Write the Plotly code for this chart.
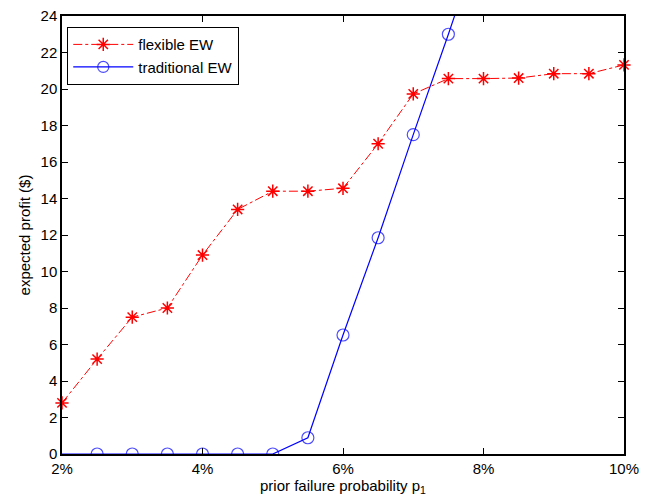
import plotly.graph_objects as go

x_flex = [2, 2.5, 3, 3.5, 4, 4.5, 5, 5.5, 6, 6.5, 7, 7.5, 8, 8.5, 9, 9.5, 10]
y_flex = [2.8, 5.2, 7.5, 8.0, 10.9, 13.4, 14.4, 14.4, 14.56, 17.0, 19.73, 20.57, 20.57, 20.6, 20.84, 20.84, 21.32]

x_trad = [2, 2.5, 3, 3.5, 4, 4.5, 5, 5.5, 6, 6.5, 7, 7.5, 8]
y_trad = [0, 0, 0, 0, 0, 0, 0, 0.89, 6.52, 11.85, 17.5, 23.0, 28.7]

x_ticks = [2, 4, 6, 8, 10]
x_tick_labels = ["2%", "4%", "6%", "8%", "10%"]
y_ticks = list(range(0, 25, 2))

FONT = "Liberation Sans, Arial, sans-serif"

fig = go.Figure()
fig.add_trace(go.Scatter(
    x=x_flex, y=y_flex, mode="lines+markers", name="flexible EW",
    line=dict(color="#ff0000", width=1, dash="dashdot"),
    marker=dict(symbol="asterisk-open", size=11, color="#ff0000",
                line=dict(color="#ff0000", width=1.5)),
    cliponaxis=False,
))
fig.add_trace(go.Scatter(
    x=x_trad, y=y_trad, mode="lines+markers", name="traditional EW",
    line=dict(color="#0000ff", width=1.2),
    marker=dict(symbol="circle-open", size=[0] + [12] * (len(x_trad) - 1),
                color="#0000ff", line=dict(color="#0000ff", width=1.2)),
))

axis_common = dict(
    showgrid=False, zeroline=False, showline=True, linecolor="black",
    linewidth=1.5, mirror="ticks", ticks="inside", ticklen=6,
    tickcolor="black", tickwidth=1, automargin=False,
    ticklabeloverflow="allow",
    tickfont=dict(family=FONT, size=15, color="black"),
)

fig.update_layout(
    width=654, height=500,
    margin=dict(l=54, r=38, t=8, b=54),
    plot_bgcolor="white", paper_bgcolor="white",
    font=dict(family=FONT, size=15, color="black"),
    xaxis=dict(range=[2, 10], tickvals=x_ticks, ticktext=x_tick_labels,
               title=dict(text="prior failure probability p<sub>1</sub>", standoff=2,
                          font=dict(size=15)),
               **axis_common),
    yaxis=dict(range=[0, 24], tickvals=y_ticks,
               title=dict(text="expected profit ($)", standoff=6, font=dict(size=15)),
               **axis_common),
    legend=dict(x=0.009, y=0.975, xanchor="left", yanchor="top",
                bgcolor="white", bordercolor="black", borderwidth=1.2,
                font=dict(size=15), tracegroupgap=0, itemwidth=60),
    showlegend=True,
)

fig.write_html("out.html")
